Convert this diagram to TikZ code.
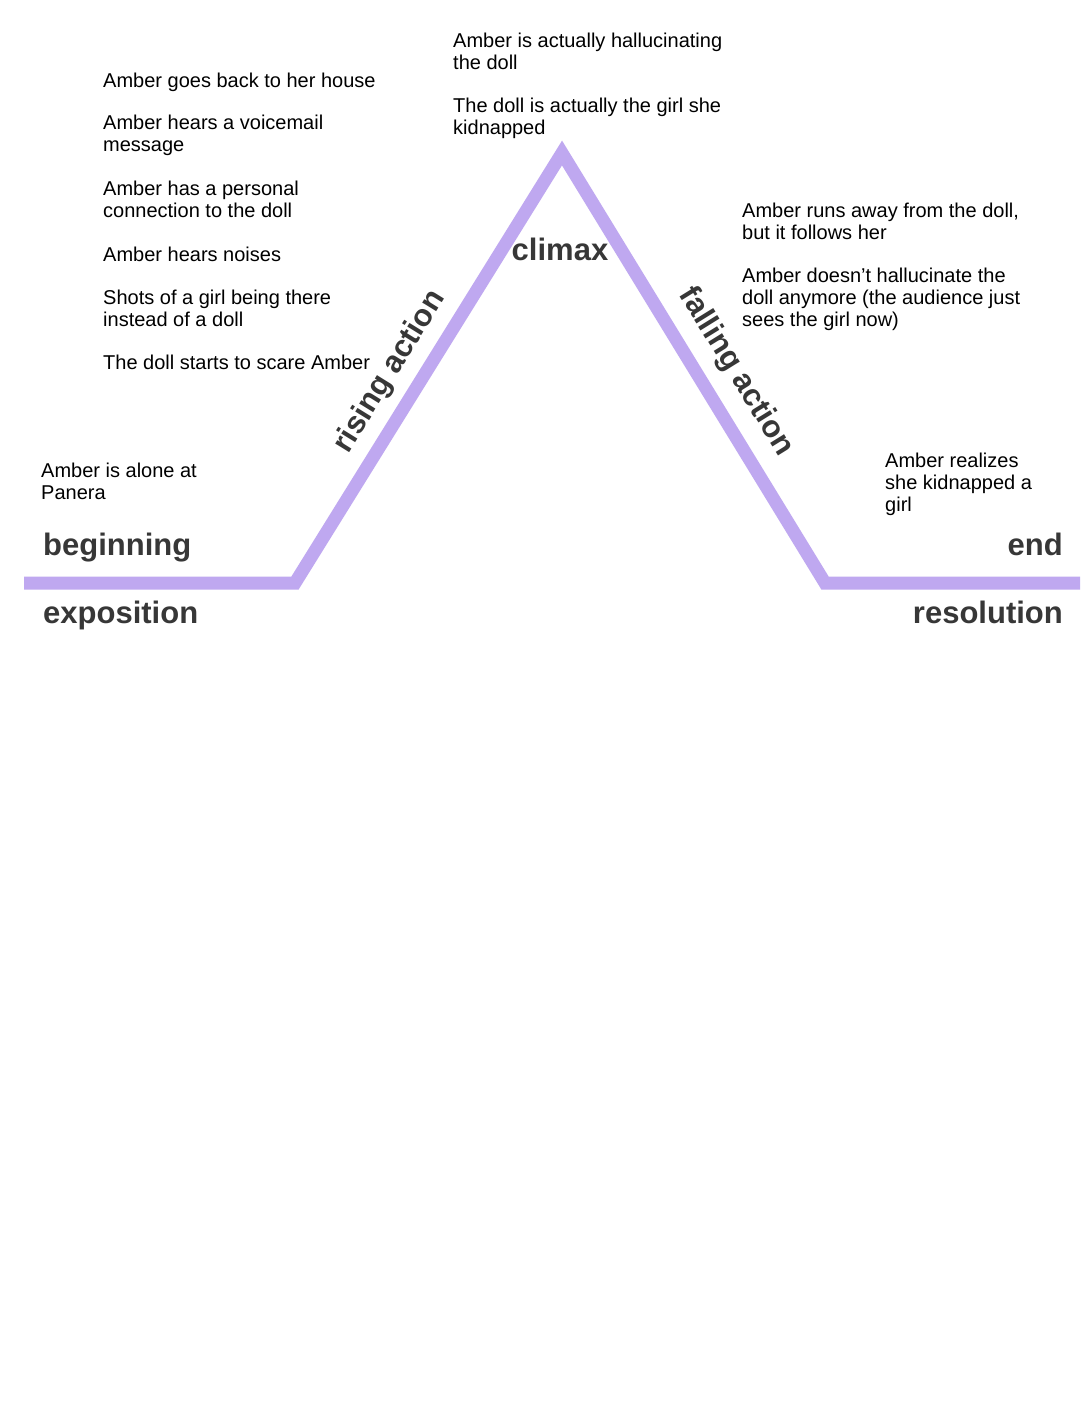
\documentclass[tikz,border=0pt]{standalone}
\usepackage{fontspec}
\setmainfont{Liberation Sans}
\definecolor{arc}{RGB}{191,168,240}
\definecolor{lab}{RGB}{55,55,55}
\tikzset{
  note/.style={anchor=north west, inner sep=0pt, align=left, font=\fontsize{20pt}{22pt}\selectfont, text=black},
  stage/.style={inner sep=0pt, font=\fontsize{31pt}{34pt}\selectfont\bfseries, text=lab},
  arcline/.style={draw=arc, line width=13pt, line join=miter, line cap=butt}
}
\begin{document}
\begin{tikzpicture}[x=1pt,y=-1pt]
\useasboundingbox[fill=white] (0,0) rectangle (1087,1417);
% plot line
\coordinate (s) at (24,583);
\coordinate (l) at (295,583);
\coordinate (p) at (562,153);
\coordinate (r) at (825,583);
\coordinate (e) at (1080,583);
\draw[arcline] (s) -- (l) -- (p) -- (r) -- (e);
% stage labels
\node[stage, anchor=base west] (beg) at (43,555) {beginning};
\node[stage, anchor=base west] (expo) at (43,623) {exposition};
\node[stage, anchor=base east] (end) at (1063,555) {end};
\node[stage, anchor=base east] (reso) at (1063,623) {resolution};
\node[stage, anchor=base] (clim) at (560,260) {climax};
\node[stage, rotate=58.2] (rise) at (390,372) {rising action};
\node[stage, rotate=-58.2] (fall) at (736,372) {falling action};
% notes left column
\node[note] (n1) at (103,72.4) {Amber goes back to her house};
\node[note] (n2) at (103,114.4) {Amber hears a voicemail\\message};
\node[note] (n3) at (103,180.4) {Amber has a personal\\connection to the doll};
\node[note] (n4) at (103,246.4) {Amber hears noises};
\node[note] (n5) at (103,289.4) {Shots of a girl being there\\instead of a doll};
\node[note] (n6) at (103,354.4) {The doll starts to scare Amber};
% top
\node[note] (t1) at (453,32.4) {Amber is actually hallucinating\\the doll};
\node[note] (t2) at (453,97.4) {The doll is actually the girl she\\kidnapped};
% right
\node[note] (r1) at (742,202.4) {Amber runs away from the doll,\\but it follows her};
\node[note] (r2) at (742,267.4) {Amber doesn’t hallucinate the\\doll anymore (the audience just\\sees the girl now)};
\node[note] (r3) at (885,452.4) {Amber realizes\\she kidnapped a\\girl};
% left bottom
\node[note] (b1) at (41,462.4) {Amber is alone at\\Panera};
\end{tikzpicture}
\end{document}
